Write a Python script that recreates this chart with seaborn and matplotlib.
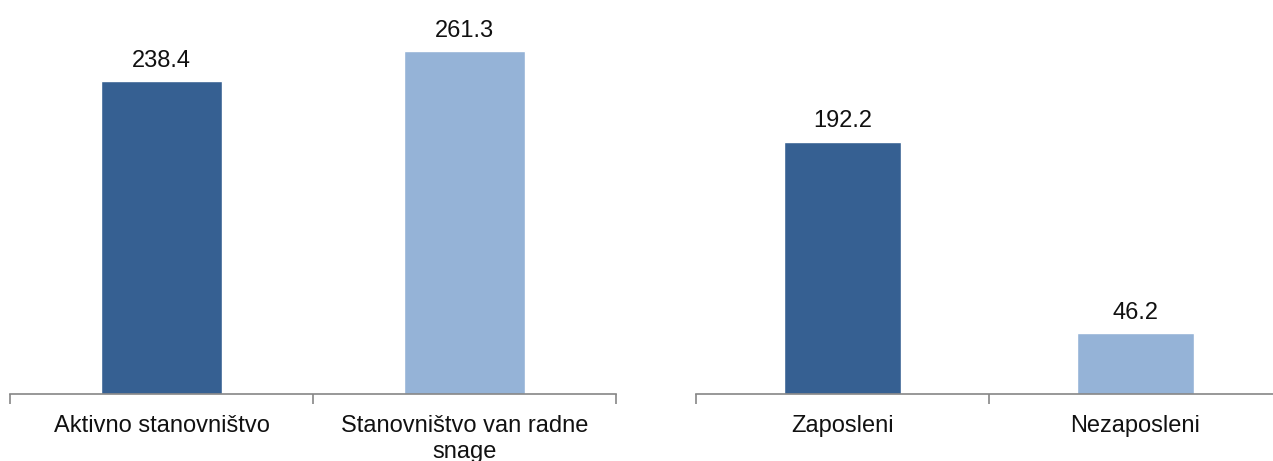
import matplotlib
matplotlib.use("Agg")
import matplotlib.pyplot as plt
import seaborn as sns

# data
left_cats = ["Aktivno stanovništvo", "Stanovništvo van radne\nsnage"]
left_vals = [238.4, 261.3]
right_cats = ["Zaposleni", "Nezaposleni"]
right_vals = [192.2, 46.2]
colors = ["#366092", "#95B3D7"]

sns.set_style("white")
plt.rcParams["font.family"] = ["Liberation Sans", "DejaVu Sans"]

W, H = 1273, 461
fig = plt.figure(figsize=(W / 100, H / 100), dpi=100)

base = 394
ax1 = fig.add_axes([10 / W, (H - base) / H, 606 / W, base / H])
ax2 = fig.add_axes([696 / W, (H - base) / H, 586 / W, base / H])

for ax, cats, vals in [(ax1, left_cats, left_vals), (ax2, right_cats, right_vals)]:
    sns.barplot(x=cats, y=vals, hue=cats, palette=colors, width=0.4,
                ax=ax, legend=False, saturation=1)
    ax.set_xlim(-0.5, 1.5)
    ax.set_ylim(0, 300)
    for s in ["top", "right", "left"]:
        ax.spines[s].set_visible(False)
    ax.spines["bottom"].set_color("#868686")
    ax.spines["bottom"].set_linewidth(1.2)
    ax.set_yticks([])
    ax.set_xticks([0, 1])
    ax.set_xticklabels(cats, fontsize=17, color="#111111", linespacing=1.25)
    ax.tick_params(axis="x", which="major", length=0, pad=15)
    ax.set_xticks([-0.5, 0.5, 1.5], minor=True)
    ax.tick_params(axis="x", which="minor", bottom=True, length=7, width=1.2,
                   color="#868686", direction="out")
    for i, v in enumerate(vals):
        ax.text(i, v + 7, f"{v:.1f}", ha="center", va="bottom", fontsize=17, color="#111111")

fig.savefig("out.png", dpi=100)
